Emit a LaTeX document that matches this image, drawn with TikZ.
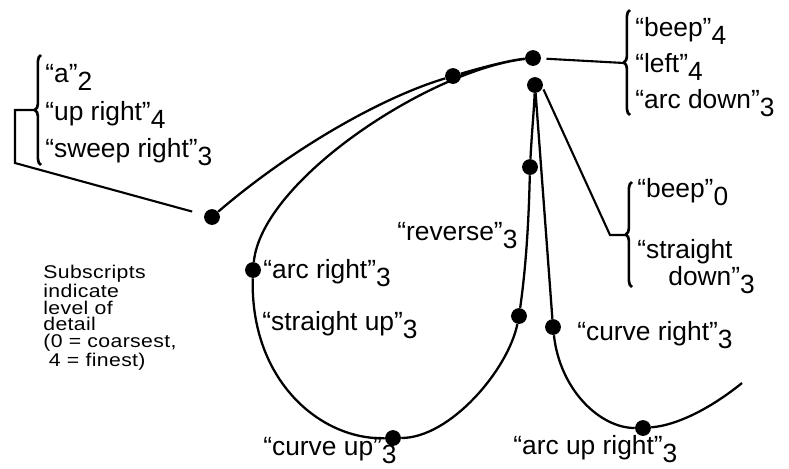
\documentclass[tikz,border=0pt]{standalone}
\usepackage{fontspec}
\setmainfont{Liberation Sans}
\newfontfamily\notefont[FakeStretch=1.15, LetterSpace=2]{Liberation Sans}
\usetikzlibrary{decorations.pathreplacing}

% level-of-detail subscript, set full size but lowered
\newcommand{\lvl}[1]{\raisebox{-0.32em}{#1}}

\begin{document}
\begin{tikzpicture}[
    x=0.02cm, y=-0.02cm,
    trail/.style={line width=1.3pt, line join=round},
    dot/.style={circle, fill=black, inner sep=0pt, minimum size=9pt},
    link/.style={line width=1.2pt},
    bracket/.style={decorate, decoration={brace, amplitude=3.5pt}, line width=1.5pt},
    lbl/.style={anchor=base west, inner sep=0pt, font=\fontsize{15}{17}\selectfont},
    note/.style={anchor=north west, inner sep=0pt, align=left, font=\notefont\fontsize{10.5}{9.4}\selectfont},
]
\useasboundingbox (0,0) rectangle (789,468);

% ---- Punkte ----
\node[dot] (A) at (212,217) {};
\node[dot] (B) at (453,76)  {};
\node[dot] (C) at (533,58)  {};
\node[dot] (D) at (535,85)  {};
\node[dot] (E) at (530,167) {};
\node[dot] (F) at (519,316) {};
\node[dot] (G) at (553,327) {};
\node[dot] (H) at (393,438) {};
\node[dot] (I) at (253,270) {};
\node[dot] (J) at (643,428) {};
\coordinate (K) at (742,383);

% ---- Bahn ----
\draw[trail] (A) .. controls (290,150) and (380,98) .. (B)
    .. controls (480,68) and (510,60) .. (C)
    .. controls (430,70) and (262,180) .. (I)
    .. controls (250,380) and (320,440) .. (H)
    .. controls (450,438) and (508,370) .. (F)
    .. controls (527,260) and (529,210) .. (E)
    .. controls (532,130) and (534,110) .. (D)
    -- (G)
    .. controls (560,390) and (600,428) .. (J)
    .. controls (680,425) and (715,405) .. (K);

% ---- Klammern ----
\draw[bracket] (41,165) -- (41,55);
\draw[bracket] (630,115) -- (630,10);
\draw[bracket] (632,287) -- (632,182);
\coordinate (tipTL) at (35,110);
\coordinate (tipTR) at (624,63);
\coordinate (tipMR) at (626,235);

% ---- Verbindungen ----
\draw[link, shorten >=7pt] (tipTL) -- (15,110) -- (15,163) -- (A);
\draw[link, shorten <=3pt] (C) -- (tipTR);
\draw[link, shorten <=1pt] (D.-20) -- (610,235) -- (tipMR);

% ---- Beschriftung ----
\node[lbl] (lblA)     at (45,82)   {``a''\lvl{2}};
\node[lbl] (lblUp)    at (45,120)  {``up right''\lvl{4}};
\node[lbl] (lblSweep) at (45,157)  {``sweep right''\lvl{3}};

\node[lbl] (lblBeep)  at (635,36)  {``beep''\lvl{4}};
\node[lbl] (lblLeft)  at (635,72)  {``left''\lvl{4}};
\node[lbl] (lblArcDn) at (635,108) {``arc down''\lvl{3}};

\node[lbl] (lblBeep0) at (637,197) {``beep''\lvl{0}};
\node[lbl] (lblStr)   at (637,258) {``straight};
\node[lbl] (lblDown)  at (668,285) {down''\lvl{3}};

\node[lbl] (lblRev)   at (397,240) {``reverse''\lvl{3}};
\node[lbl] (lblArcR)  at (263,278) {``arc right''\lvl{3}};
\node[lbl] (lblStrUp) at (262,330) {``straight up''\lvl{3}};
\node[lbl] (lblCurUp) at (263,455) {``curve up''\lvl{3}};
\node[lbl] (lblCurR)  at (577,340) {``curve right''\lvl{3}};
\node[lbl] (lblArcUR) at (513,454) {``arc up right''\lvl{3}};

\node[note] (legend) at (43,265) {Subscripts\\indicate\\level of\\detail\\(0 = coarsest,\\\hspace{0.3em}4 = finest)};

\end{tikzpicture}
\end{document}
